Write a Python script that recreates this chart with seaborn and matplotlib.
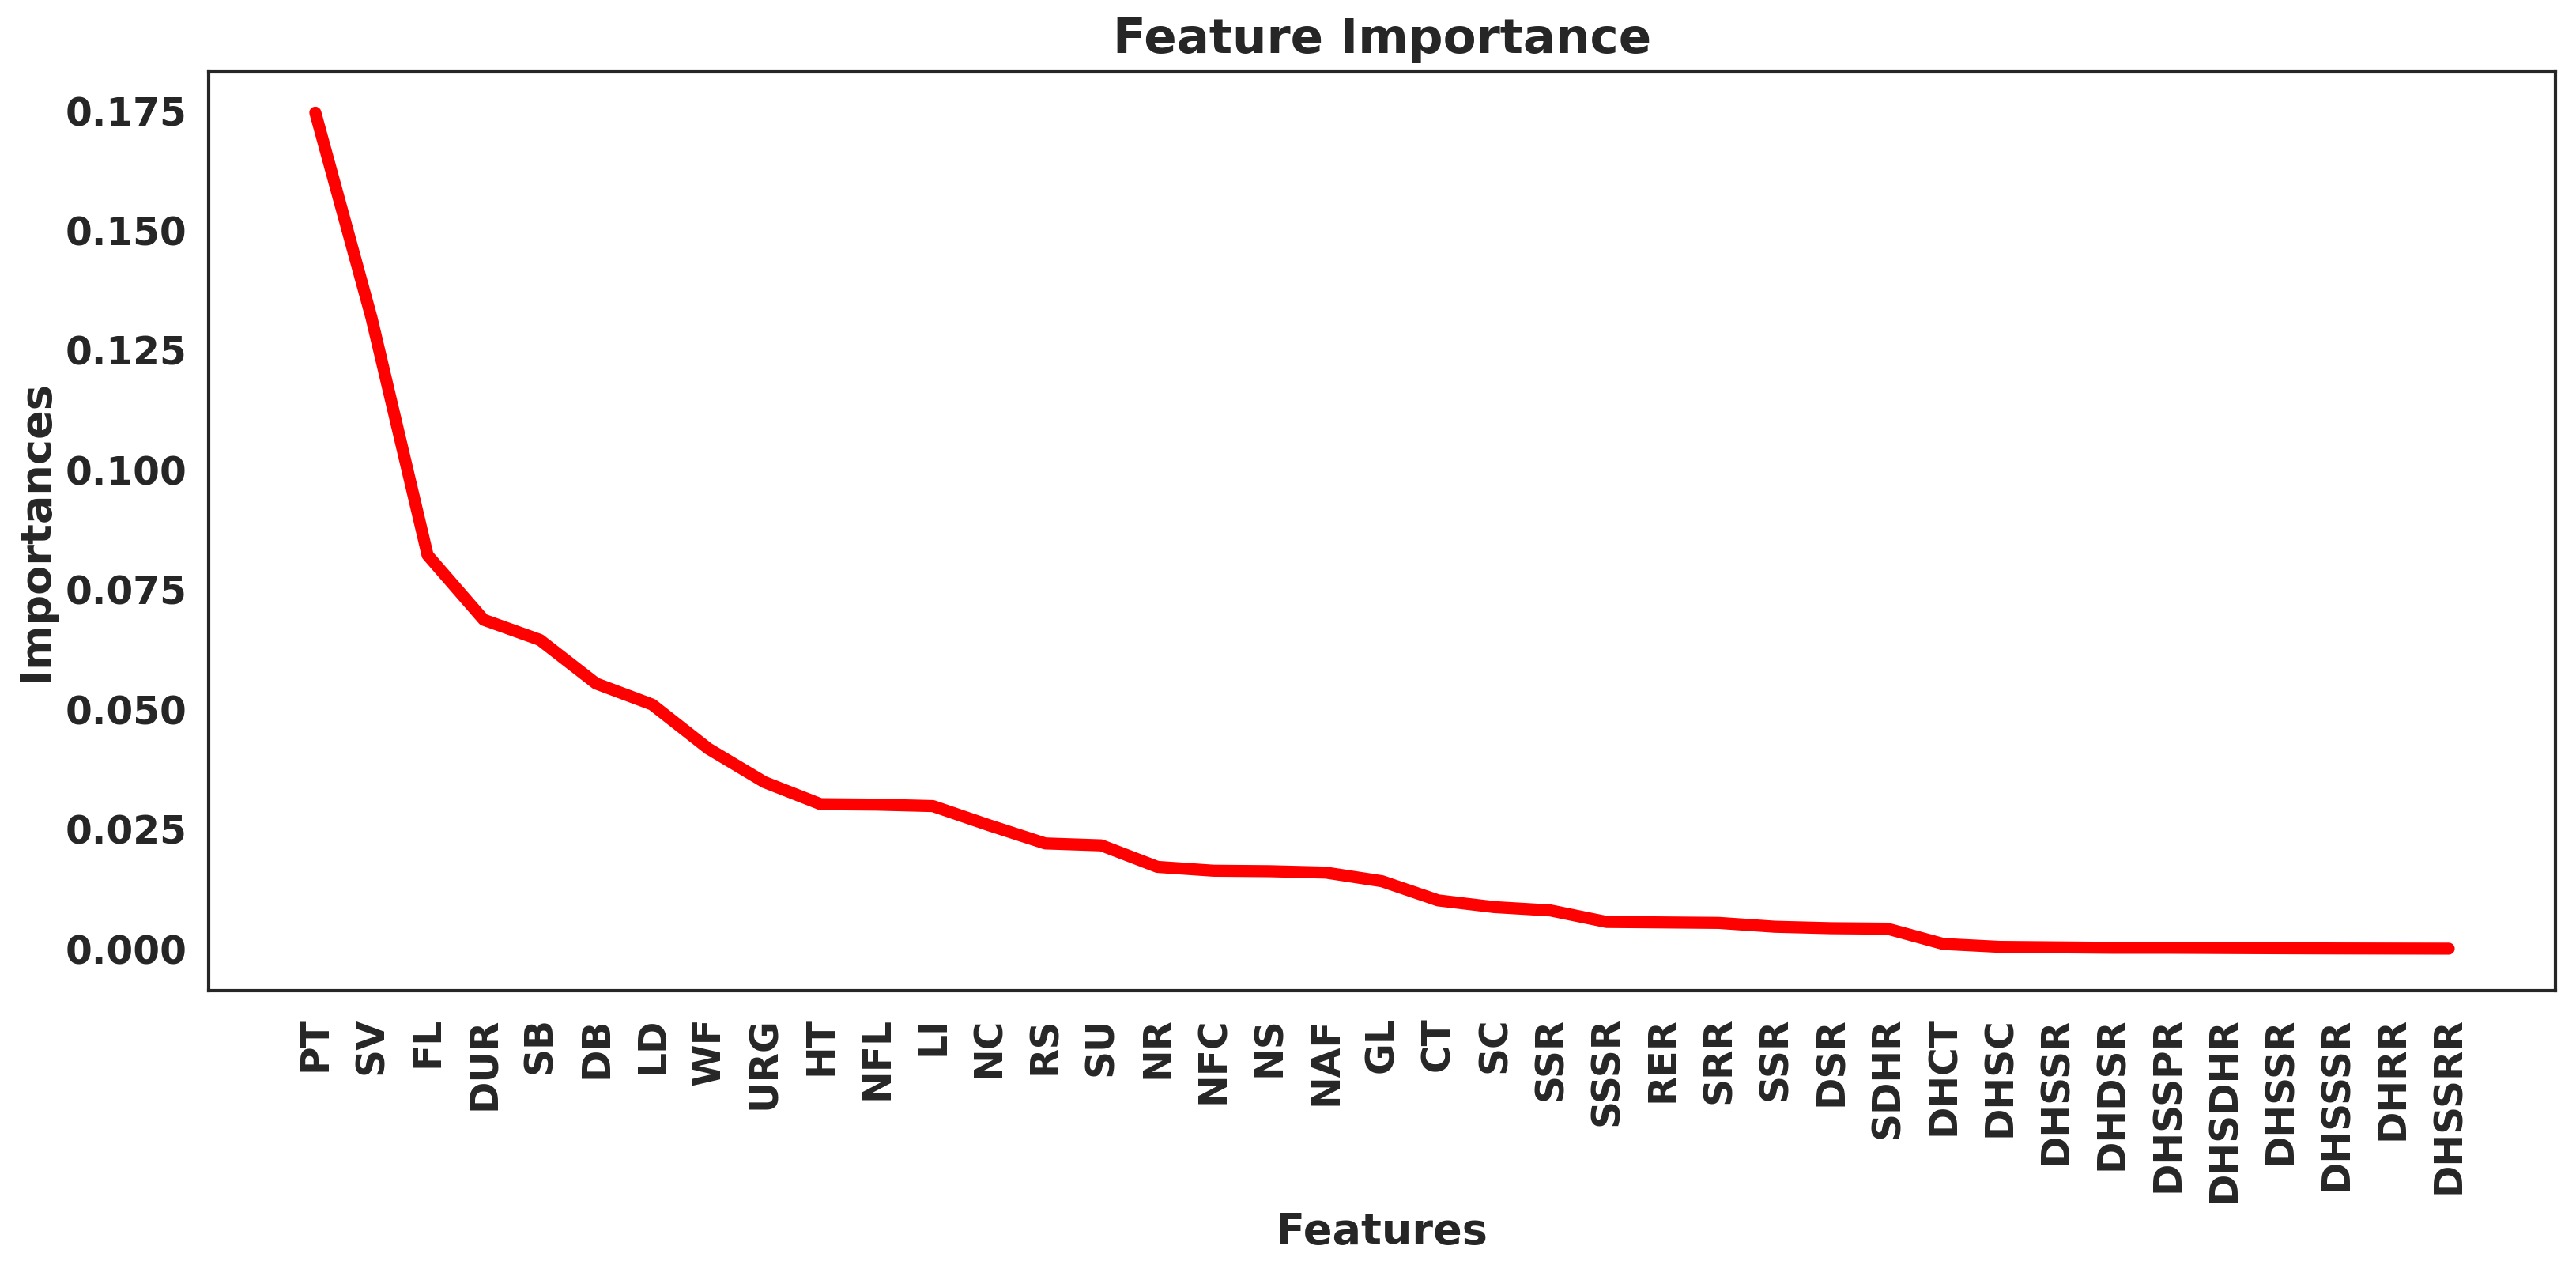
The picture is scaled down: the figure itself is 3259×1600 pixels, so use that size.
import numpy as np
import pandas as pd
import matplotlib
matplotlib.use("Agg")
import matplotlib.pyplot as plt
import seaborn as sns

features = ["PT", "SV", "FL", "DUR", "SB", "DB", "LD", "WF", "URG", "HT",
            "NFL", "LI", "NC", "RS", "SU", "NR", "NFC", "NS", "NAF", "GL",
            "CT", "SC", "SSR", "SSSR", "RER", "SRR", "SSR", "DSR", "SDHR", "DHCT",
            "DHSC", "DHSSR", "DHDSR", "DHSSPR", "DHSDHR", "DHSSR", "DHSSSR", "DHRR", "DHSSRR"]
importances = [0.1746, 0.1318, 0.0822, 0.0687, 0.0645, 0.0554, 0.0510, 0.0418, 0.0348, 0.0302,
               0.0301, 0.0298, 0.0258, 0.0220, 0.0216, 0.0171, 0.0163, 0.0162, 0.0159, 0.0141,
               0.0101, 0.0087, 0.0080, 0.0056, 0.0055, 0.0054, 0.0046, 0.0043, 0.0042, 0.0010,
               0.0004, 0.0003, 0.0002, 0.0002, 0.00015, 0.0001, 0.00006, 0.00004, 0.00002]

df = pd.DataFrame({"pos": np.arange(len(features)), "Importances": importances})

sns.set_theme(style="white")
plt.rcParams["font.family"] = ["DejaVu Sans"]
plt.rcParams["font.weight"] = "bold"

fig, ax = plt.subplots(figsize=(16.295, 8), dpi=200)
fig.subplots_adjust(left=0.081, right=0.992, top=0.944, bottom=0.217)

sns.lineplot(data=df, x="pos", y="Importances", color="red", linewidth=5.5, ax=ax)

ax.set_xticks(df["pos"])
ax.set_xticklabels(features, rotation=90, fontsize=17.5, fontweight="bold")
for lab in ax.get_yticklabels():
    lab.set_fontsize(17.5)
    lab.set_fontweight("bold")
ax.tick_params(axis="x", pad=6)
ax.tick_params(axis="y", pad=4)
ax.set_xlabel("Features", fontsize=19.5, fontweight="bold", labelpad=4)
ax.set_ylabel("Importances", fontsize=19.5, fontweight="bold", labelpad=4)
ax.set_title("Feature Importance", fontsize=22, fontweight="bold", pad=8)
for s in ax.spines.values():
    s.set_linewidth(1.5)
    s.set_color("#262626")

fig.savefig("out.png", dpi=200)
